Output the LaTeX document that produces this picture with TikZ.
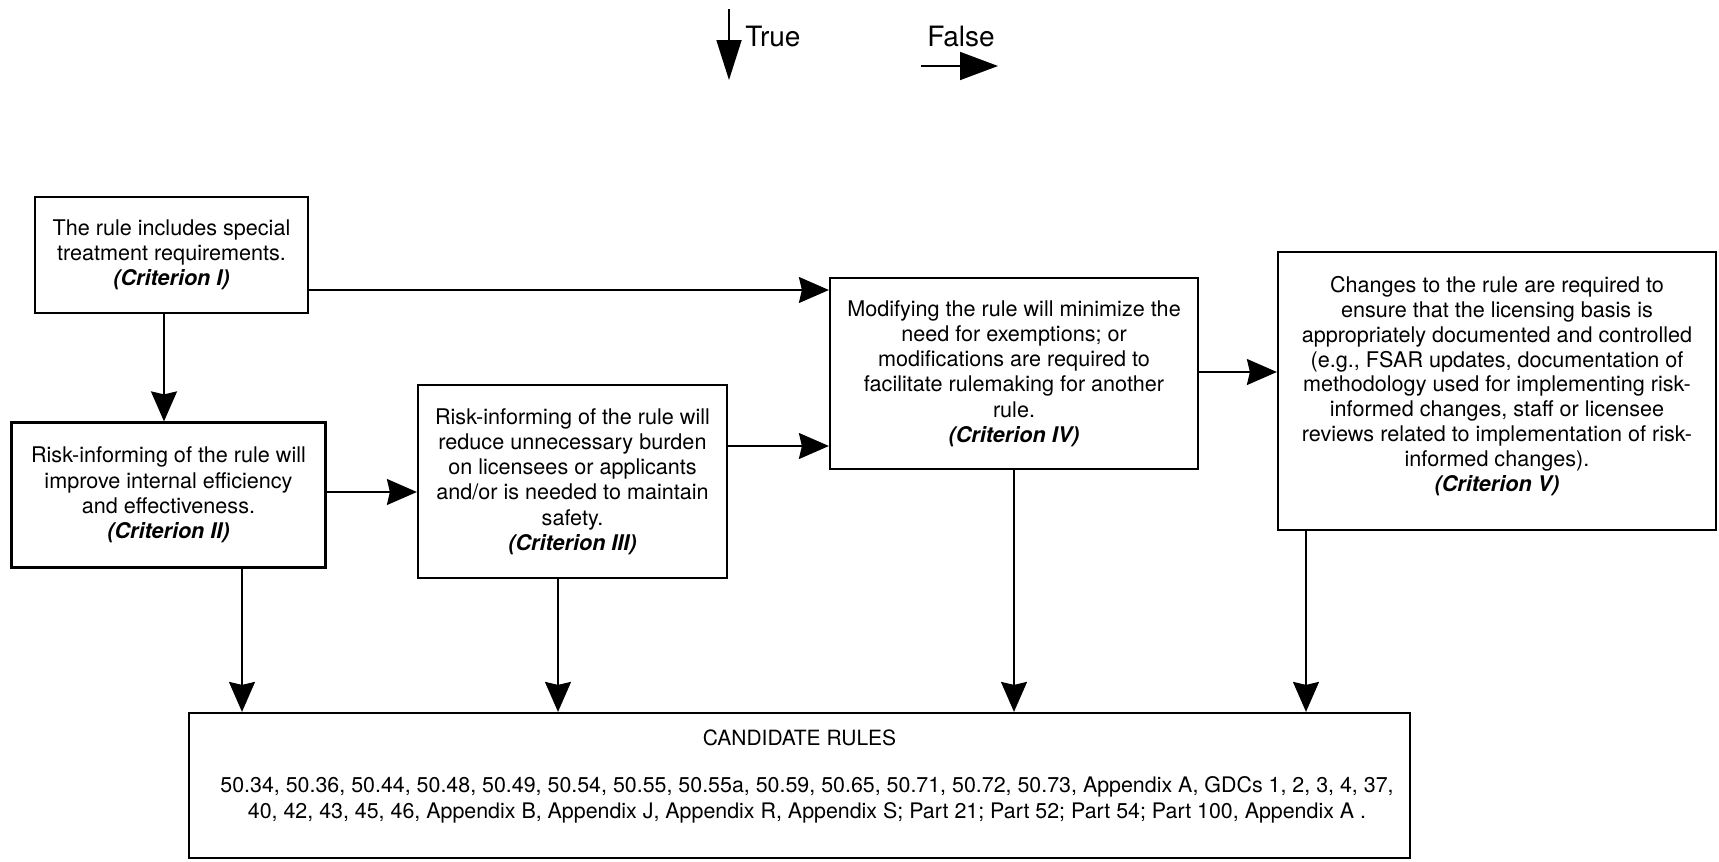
\documentclass[tikz,border=0pt]{standalone}
\usepackage{fontspec}
\setmainfont{TeX Gyre Heros}
\usetikzlibrary{arrows.meta}
\newcommand{\critname}[1]{\textbf{\textit{(Criterion #1)}}}
\begin{document}
\begin{tikzpicture}[x=0.5pt,y=-0.5pt,
  box/.style={draw,line width=1.1pt,inner sep=0pt,align=center,
    font=\fontsize{10.8}{12.6}\selectfont},
  txt/.style={inner sep=0pt,align=center,font=\fontsize{10.8}{12.4}\selectfont},
  arr/.style={line width=0.9pt,-{Stealth[length=15pt,width=13pt,inset=1.5pt]}},
  legend/.style={inner sep=0pt,font=\fontsize{14}{16}\selectfont}]
\useasboundingbox (0,0) rectangle (1719,862);

% legend
\coordinate (t1) at (729,9);
\coordinate (t2) at (729,80);
\draw[line width=0.9pt,-{Triangle[length=20pt,width=12.5pt]}] (t1) -- (t2);
\node[legend,anchor=west] (ttrue) at (745,37) {True};
\coordinate (f1) at (921,66);
\coordinate (f2) at (998,66);
\draw[line width=0.9pt,-{Triangle[length=19pt,width=14pt]}] (f1) -- (f2);
\node[legend] (tfalse) at (961,37) {False};

% boxes
\node[box,minimum width=136.5pt,minimum height=58pt] (b1) at (171.5,255)
  {The rule includes special\\ treatment requirements.\\ \critname{I}};
\node[box,minimum width=157pt,minimum height=72.5pt] (b2) at (168.5,495)
  {Risk-informing of the rule will\\ improve internal efficiency\\ and effectiveness.\\ \critname{II}};
\node[box,minimum width=154.5pt,minimum height=96.5pt] (b3) at (572.5,481.5)
  {Risk-informing of the rule will\\ reduce unnecessary burden\\ on licensees or applicants\\ and/or is needed to maintain\\ safety.\\ \critname{III}};
\node[box,minimum width=184pt,minimum height=95.5pt] (b4) at (1014,373.5)
  {Modifying the rule will minimize the\\ need for exemptions; or\\ modifications are required to\\ facilitate rulemaking for another\\ rule.\\ \critname{IV}};
\node[box,minimum width=219pt,minimum height=139pt] (b5) at (1497,391) {};
\node[txt] (t5) at (1497,386)
  {Changes to the rule are required to\\ ensure that the licensing basis is\\ appropriately documented and controlled\\ (e.g., FSAR updates, documentation of\\ methodology used for implementing risk-\\ informed changes, staff or licensee\\ reviews related to implementation of risk-\\ informed changes).\\ \critname{V}};
\node[box,minimum width=610.5pt,minimum height=72.5pt] (bot) at (799.5,785.5) {};
\node[txt,font=\fontsize{10.5}{13}\selectfont] (bottitle) at (799.5,738) {CANDIDATE RULES};
\node[txt,font=\fontsize{10.7}{13}\selectfont] (botlist) at (807,800)
  {50.34, 50.36, 50.44, 50.48, 50.49, 50.54, 50.55, 50.55a, 50.59, 50.65, 50.71, 50.72, 50.73, Appendix A, GDCs 1, 2, 3, 4, 37,\\
   40, 42, 43, 45, 46, Appendix B, Appendix J, Appendix R, Appendix S; Part 21; Part 52; Part 54; Part 100, Appendix A .};

% connectors
\draw[arr] (b1.south -| 164,0) -- (b2.north -| 164,0);
\draw[arr] (b1.east |- 0,290) -- (b4.west |- 0,290);
\draw[arr] (b2.east |- 0,492) -- (b3.west |- 0,492);
\draw[arr] (b3.east |- 0,446) -- (b4.west |- 0,446);
\draw[arr] (b4.east |- 0,372) -- (b5.west |- 0,372);
\draw[arr] (b2.south -| 242,0) -- (bot.north -| 242,0);
\draw[arr] (b3.south -| 558,0) -- (bot.north -| 558,0);
\draw[arr] (b4.south -| 1014,0) -- (bot.north -| 1014,0);
\draw[arr] (b5.south -| 1306,0) -- (bot.north -| 1306,0);
\end{tikzpicture}
\end{document}
